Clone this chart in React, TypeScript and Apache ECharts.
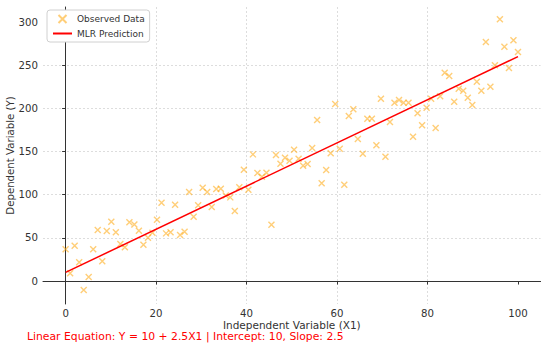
import React, { useEffect, useRef } from "react";
import * as echarts from "echarts";

const xValues = [
  0, 1.0, 2.0, 3.0, 4.0, 5.1, 6.1, 7.1, 8.1, 9.1,
  10.1, 11.1, 12.1, 13.1, 14.1, 15.2, 16.2, 17.2, 18.2, 19.2,
  20.2, 21.2, 22.2, 23.2, 24.2, 25.3, 26.3, 27.3, 28.3, 29.3,
  30.3, 31.3, 32.3, 33.3, 34.3, 35.4, 36.4, 37.4, 38.4, 39.4,
  40.4, 41.4, 42.4, 43.4, 44.4, 45.5, 46.5, 47.5, 48.5, 49.5,
  50.5, 51.5, 52.5, 53.5, 54.5, 55.6, 56.6, 57.6, 58.6, 59.6,
  60.6, 61.6, 62.6, 63.6, 64.6, 65.7, 66.7, 67.7, 68.7, 69.7,
  70.7, 71.7, 72.7, 73.7, 74.7, 75.8, 76.8, 77.8, 78.8, 79.8,
  80.8, 81.8, 82.8, 83.8, 84.8, 85.9, 86.9, 87.9, 88.9, 89.9,
  90.9, 91.9, 92.9, 93.9, 94.9, 96.0, 97.0, 98.0, 99.0, 100,
];

const yObserved = [
  36.7, 8.9, 40.9, 21.7, -10.4, 4.6, 36.7, 59.1, 22.8, 57.9,
  68.7, 56.4, 42.9, 39.0, 68.0, 65.6, 58.3, 42.0, 50.2, 56.0,
  71.0, 90.7, 55.2, 56.4, 88.4, 53.3, 57.1, 103.0, 74.5, 87.7,
  108.0, 103.0, 85.7, 106.6, 107.0, 99.2, 96.9, 81.1, 108.5, 129.0,
  105.8, 146.7, 125.1, 120.8, 125.4, 65.2, 146.0, 135.9, 142.8, 139.4,
  152.1, 141.7, 133.6, 135.5, 154.0, 186.5, 113.2, 128.6, 147.9, 205.0,
  153.3, 111.5, 191.1, 198.9, 164.5, 147.5, 188.0, 188.0, 157.2, 211.2,
  144.0, 184.2, 206.6, 209.7, 206.6, 206.6, 167.2, 194.4, 180.3, 200.8,
  211.2, 177.2, 213.9, 241.3, 237.5, 207.7, 222.8, 220.4, 212.3, 203.9,
  230.9, 220.4, 276.8, 225.0, 249.8, 303.1, 271.4, 246.7, 278.8, 265.3,
];

const lineX = [0, 100];
const lineY = [10, 260];

const xTicks = [0, 20, 40, 60, 80, 100];
const yTicks = [0, 50, 100, 150, 200, 250, 300];

const seriesNames = ["Observed Data", "MLR Prediction"];
const xTitle = "Independent Variable (X1)";
const yTitle = "Dependent Variable (Y)";
const equationText = "Linear Equation: Y = 10 + 2.5X1 | Intercept: 10, Slope: 2.5";

const FONT = "DejaVu Sans";

export default function App() {
  const ref = useRef<HTMLDivElement>(null);

  useEffect(() => {
    if (!ref.current) return;
    const chart = echarts.init(ref.current, null, { renderer: "svg" });
    const gridLine = { show: true, showMinLine: false, showMaxLine: false, lineStyle: { color: "#d4d4d4", width: 0.8, type: [2, 2] } };
    const axisCommon = {
      axisLine: { show: true, lineStyle: { color: "#333", width: 1 } },
      axisLabel: { color: "#333", fontSize: 10.2, fontFamily: FONT, margin: 4, lineHeight: 10 },
      nameMoveOverlap: false,
    };
    chart.setOption({
      animation: false,
      textStyle: { fontFamily: FONT },
      grid: { left: 43, top: 7, right: 9.4, bottom: 43, containLabel: false, outerBoundsMode: "none" },
      legend: {
        left: 47,
        top: 10,
        orient: "vertical",
        padding: [4, 5],
        itemGap: 5,
        itemWidth: 19,
        itemHeight: 8,
        backgroundColor: "#fff",
        borderColor: "#d0d0d0",
        borderWidth: 1,
        borderRadius: 3,
        textStyle: { fontSize: 9, color: "#333", fontFamily: FONT, lineHeight: 9 },
        data: [seriesNames[0], { name: seriesNames[1], itemStyle: { opacity: 0 } }],
      },
      xAxis: {
        type: "value",
        min: -5,
        max: 105,
        splitNumber: 6,
        name: xTitle,
        nameLocation: "middle",
        nameGap: 15.5,
        ...axisCommon,
        nameTextStyle: { color: "#333", fontSize: 10.5, fontFamily: FONT, lineHeight: 11 },
        axisLabel: { ...axisCommon.axisLabel, customValues: xTicks },
        axisTick: { show: true, length: 3.5, lineStyle: { color: "#333" }, customValues: xTicks },
        splitLine: gridLine,
      },
      yAxis: {
        type: "value",
        min: -26.6,
        max: 317.4,
        splitNumber: 6,
        name: yTitle,
        nameLocation: "middle",
        nameGap: 27,
        ...axisCommon,
        nameTextStyle: { color: "#333", fontSize: 10.2, fontFamily: FONT, lineHeight: 11 },
        axisLabel: { ...axisCommon.axisLabel, margin: 5, customValues: yTicks },
        axisTick: { show: true, length: 3.5, lineStyle: { color: "#333" }, customValues: yTicks },
        splitLine: gridLine,
      },
      series: [
        {
          name: seriesNames[0],
          type: "scatter",
          symbol: "path://M0,0L10,10M10,0L0,10",
          symbolSize: 6,
          itemStyle: { color: "transparent", borderColor: "rgba(255,170,20,0.72)", borderWidth: 1.4 },
          emphasis: { disabled: true },
          data: xValues.map((x, i) => [x, yObserved[i]]),
          z: 3,
        },
        {
          name: seriesNames[1],
          type: "line",
          symbol: "none",
          lineStyle: { color: "#ff0000", width: 1.5 },
          itemStyle: { color: "#ff0000" },
          emphasis: { disabled: true },
          data: lineX.map((x, i) => [x, lineY[i]]),
          z: 4,
        },
      ],
      graphic: [
        {
          type: "text",
          left: 27,
          top: 331,
          style: { text: equationText, fill: "#ff0000", fontSize: 10.8, fontFamily: FONT, lineHeight: 11 },
        },
      ],
    });
    return () => chart.dispose();
  }, []);

  return <div ref={ref} style={{ width: 550, height: 347 }} />;
}

const _style = document.createElement("style");
_style.textContent = "body{margin:0}";
document.head.appendChild(_style);
